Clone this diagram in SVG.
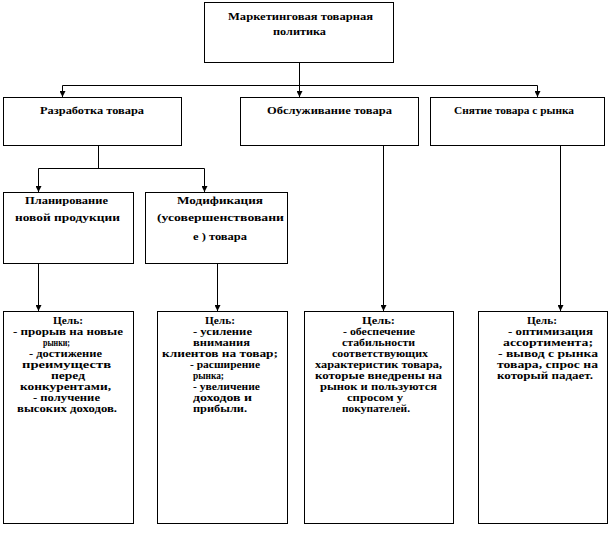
<svg xmlns="http://www.w3.org/2000/svg" width="611" height="537" viewBox="0 0 611 537">
<style>
.box{fill:#fff;stroke:#000;stroke-width:1}
.ln{fill:none;stroke:#000;stroke-width:1}
text{font-family:'Liberation Serif','DejaVu Serif',serif;font-weight:bold;fill:#000;font-size:10px}
.h{font-size:11px}
</style>
<defs>
<marker id="ah" viewBox="0 0 6 6" refX="6" refY="3" markerWidth="6" markerHeight="6" markerUnits="userSpaceOnUse" orient="auto">
<path d="M0,0 L6,3 L0,6 z" fill="#000"/>
</marker>
</defs>
<rect width="611" height="537" fill="#fff"/>
<g id="connectors">
<path class="ln" d="M299.5,62.5 V97" marker-end="url(#ah)"/>
<path class="ln" d="M62.5,85.5 H537.5"/>
<path class="ln" d="M62.5,85.5 V97" marker-end="url(#ah)"/>
<path class="ln" d="M537.5,85.5 V97" marker-end="url(#ah)"/>
<path class="ln" d="M98.5,145.5 V168.5 M38.5,168.5 H204.5"/>
<path class="ln" d="M38.5,168.5 V192" marker-end="url(#ah)"/>
<path class="ln" d="M204.5,168.5 V192" marker-end="url(#ah)"/>
<path class="ln" d="M38.5,263.5 V311" marker-end="url(#ah)"/>
<path class="ln" d="M217.5,263.5 V311" marker-end="url(#ah)" stroke="#555"/>
<path class="ln" d="M383.5,145.5 V311" marker-end="url(#ah)"/>
<path class="ln" d="M560.5,145.5 V311" marker-end="url(#ah)"/>
</g>
<g id="n-top">
<rect class="box" x="204.5" y="2.5" width="189" height="60"/>
<text class="h" x="228" y="19.5" textLength="145" lengthAdjust="spacingAndGlyphs">Маркетинговая товарная</text>
<text class="h" x="273" y="35" textLength="53" lengthAdjust="spacingAndGlyphs">политика</text>
</g>
<g id="n-dev">
<rect class="box" x="3.5" y="97.5" width="178" height="48"/>
<text class="h" x="40" y="114" textLength="104" lengthAdjust="spacingAndGlyphs">Разработка товара</text>
</g>
<g id="n-service">
<rect class="box" x="240.5" y="97.5" width="178" height="48"/>
<text class="h" x="267" y="114" textLength="125" lengthAdjust="spacingAndGlyphs">Обслуживание товара</text>
</g>
<g id="n-withdraw">
<rect class="box" x="430.5" y="97.5" width="174" height="48"/>
<text class="h" x="454" y="114" textLength="120" lengthAdjust="spacingAndGlyphs">Снятие товара с рынка</text>
</g>
<g id="n-plan">
<rect class="box" x="3.5" y="192.5" width="130" height="71"/>
<text class="h" x="25" y="203.5" textLength="83" lengthAdjust="spacingAndGlyphs">Планирование</text>
<text class="h" x="15" y="221" textLength="105" lengthAdjust="spacingAndGlyphs">новой продукции</text>
</g>
<g id="n-mod">
<rect class="box" x="145.5" y="192.5" width="142" height="71"/>
<text class="h" x="177" y="203.5" textLength="86" lengthAdjust="spacingAndGlyphs">Модификация</text>
<text class="h" x="157" y="221" textLength="127" lengthAdjust="spacingAndGlyphs">(усовершенствовани</text>
<text class="h" x="193" y="240" textLength="54" lengthAdjust="spacingAndGlyphs">е ) товара</text>
</g>
<g id="n-goal1">
<rect class="box" x="3.5" y="311.5" width="130" height="212"/>
<text x="53" y="323.5" textLength="30" lengthAdjust="spacingAndGlyphs">Цель:</text>
<text x="13" y="334.5" textLength="110" lengthAdjust="spacingAndGlyphs">- прорыв на новые</text>
<text x="43" y="345.5" textLength="27" lengthAdjust="spacingAndGlyphs">рынки;</text>
<text x="29" y="356.5" textLength="73" lengthAdjust="spacingAndGlyphs">- достижение</text>
<text x="22" y="367.5" textLength="89" lengthAdjust="spacingAndGlyphs">преимуществ</text>
<text x="51" y="378.5" textLength="34" lengthAdjust="spacingAndGlyphs">перед</text>
<text x="20" y="389.5" textLength="91" lengthAdjust="spacingAndGlyphs">конкурентами,</text>
<text x="33" y="400.5" textLength="67" lengthAdjust="spacingAndGlyphs">- получение</text>
<text x="17" y="411.5" textLength="100" lengthAdjust="spacingAndGlyphs">высоких  доходов.</text>
</g>
<g id="n-goal2">
<rect class="box" x="157.5" y="311.5" width="130" height="212"/>
<text x="205" y="323.5" textLength="30" lengthAdjust="spacingAndGlyphs">Цель:</text>
<text x="193" y="334.5" textLength="59" lengthAdjust="spacingAndGlyphs">- усиление</text>
<text x="193" y="345.5" textLength="57" lengthAdjust="spacingAndGlyphs">внимания</text>
<text x="162" y="356.5" textLength="116" lengthAdjust="spacingAndGlyphs">клиентов на товар;</text>
<text x="190" y="367.5" textLength="70" lengthAdjust="spacingAndGlyphs">- расширение</text>
<text x="193" y="378.5" textLength="31" lengthAdjust="spacingAndGlyphs">рынка;</text>
<text x="193" y="389.5" textLength="67" lengthAdjust="spacingAndGlyphs">- увеличение</text>
<text x="193" y="400.5" textLength="59" lengthAdjust="spacingAndGlyphs">доходов  и</text>
<text x="193" y="411.5" textLength="54" lengthAdjust="spacingAndGlyphs">прибыли.</text>
</g>
<g id="n-goal3">
<rect class="box" x="304.5" y="311.5" width="149" height="212"/>
<text x="362" y="323.5" textLength="33" lengthAdjust="spacingAndGlyphs">Цель:</text>
<text x="343" y="334.5" textLength="72" lengthAdjust="spacingAndGlyphs">- обеспечение</text>
<text x="342" y="345.5" textLength="73" lengthAdjust="spacingAndGlyphs">стабильности</text>
<text x="332" y="356.5" textLength="96" lengthAdjust="spacingAndGlyphs">соответствующих</text>
<text x="315" y="367.5" textLength="127" lengthAdjust="spacingAndGlyphs">характеристик  товара,</text>
<text x="315" y="378.5" textLength="127" lengthAdjust="spacingAndGlyphs">которые внедрены на</text>
<text x="320" y="389.5" textLength="117" lengthAdjust="spacingAndGlyphs">рынок и пользуются</text>
<text x="347" y="400.5" textLength="56" lengthAdjust="spacingAndGlyphs">спросом у</text>
<text x="342" y="411.5" textLength="68" lengthAdjust="spacingAndGlyphs">покупателей.</text>
</g>
<g id="n-goal4">
<rect class="box" x="478.5" y="311.5" width="129" height="212"/>
<text x="527" y="323.5" textLength="30" lengthAdjust="spacingAndGlyphs">Цель:</text>
<text x="508" y="334.5" textLength="85" lengthAdjust="spacingAndGlyphs">- оптимизация</text>
<text x="503" y="345.5" textLength="90" lengthAdjust="spacingAndGlyphs">ассортимента;</text>
<text x="498" y="356.5" textLength="100" lengthAdjust="spacingAndGlyphs">- вывод с рынка</text>
<text x="497" y="367.5" textLength="101" lengthAdjust="spacingAndGlyphs">товара, спрос на</text>
<text x="497" y="378.5" textLength="96" lengthAdjust="spacingAndGlyphs">который падает.</text>
</g>
</svg>
